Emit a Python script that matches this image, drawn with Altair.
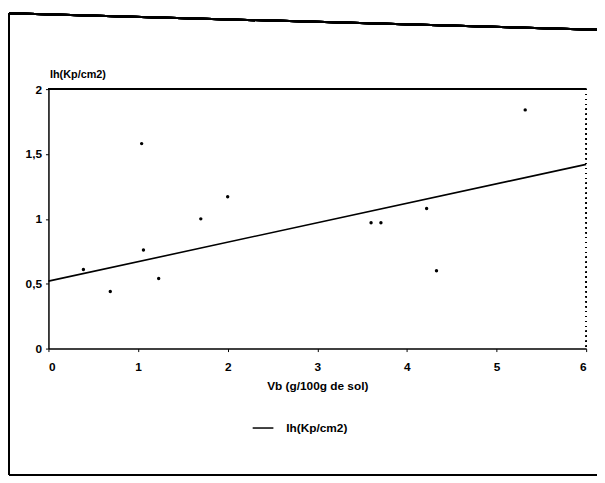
import altair as alt
import pandas as pd

vb = [0.39, 0.69, 1.04, 1.06, 1.23, 1.70, 2.00, 3.60, 3.71, 4.22, 4.33, 5.32]
ih = [0.61, 0.44, 1.58, 0.76, 0.54, 1.00, 1.17, 0.97, 0.97, 1.08, 0.60, 1.84]

# Fitted line end points
fit_x = [0, 6]
fit_y = [0.52, 1.42]
series_name = "Ih(Kp/cm2)"

x_ticks = [0, 1, 2, 3, 4, 5, 6]
y_ticks = [0, 0.5, 1, 1.5, 2]

FONT = "Liberation Sans"

pts = pd.DataFrame({"vb": vb, "ih": ih})
fit = pd.DataFrame({"vb": fit_x, "ih": fit_y, "s": [series_name] * len(fit_x)})

xscale = alt.Scale(domain=[0, 6], nice=False, zero=False)
yscale = alt.Scale(domain=[0, 2], nice=False, zero=False)

xaxis = alt.Axis(
    values=x_ticks, format="d", title="Vb (g/100g de sol)", grid=False,
    domainColor="black", domainWidth=1.5, tickColor="black", tickSize=3,
    labelPadding=10, labelFont=FONT, labelFontSize=12, labelFontWeight="bold",
    labelColor="black", titleFont=FONT, titleFontSize=12, titleFontWeight="bold",
    titleColor="black", titlePadding=8,
)
yaxis = alt.Axis(
    values=y_ticks, title="Ih(Kp/cm2)", grid=False,
    labelExpr="replace(toString(datum.value), '.', ',')",
    domainColor="black", domainWidth=1.5, tickColor="black", tickSize=3,
    labelPadding=4, labelFont=FONT, labelFontSize=12, labelFontWeight="bold",
    labelColor="black", titleFont=FONT, titleFontSize=11, titleFontWeight="bold",
    titleColor="black", titleAngle=0, titleAlign="left", titleBaseline="middle",
    titleX=1, titleY=-15,
)

points = alt.Chart(pts).mark_circle(size=12, color="black", opacity=1).encode(
    x=alt.X("vb:Q", scale=xscale, axis=xaxis),
    y=alt.Y("ih:Q", scale=yscale, axis=yaxis),
)

line = alt.Chart(fit).mark_line(strokeWidth=1.6).encode(
    x="vb:Q",
    y="ih:Q",
    color=alt.Color(
        "s:N",
        scale=alt.Scale(range=["black"]),
        legend=alt.Legend(
            title=None, orient="none", legendX=206, legendY=332,
            symbolType="stroke", symbolSize=441, symbolStrokeWidth=1.5,
            labelFont=FONT, labelFontSize=12, labelFontWeight="bold",
            labelColor="black", labelOffset=12, padding=0,
        ),
    ),
)

top_rule = alt.Chart(pts).mark_rule(color="black", strokeWidth=1.5).encode(
    y=alt.datum(2)
)
right_rule = alt.Chart(pts).mark_rule(color="black", strokeWidth=1.2, strokeDash=[1, 4]).encode(
    x=alt.datum(6)
)

# outer page frame (decoration)
frame_left = alt.Chart(pts).mark_rule(color="black", strokeWidth=2).encode(
    x=alt.value(-40), y=alt.value(-77), y2=alt.value(391)
)
frame_top = alt.Chart(pts).mark_rule(color="black", strokeWidth=2).encode(
    x=alt.value(-40), x2=alt.value(560), y=alt.value(-77), y2=alt.value(-60)
)
frame_bottom = alt.Chart(pts).mark_rule(color="black", strokeWidth=2).encode(
    x=alt.value(-40), x2=alt.value(560), y=alt.value(391), y2=alt.value(391)
)

chart = alt.layer(
    top_rule, right_rule, line, points, frame_left, frame_top, frame_bottom
).properties(
    width=545, height=263,
    autosize=alt.AutoSizeParams(type="none"),
    padding={"left": 41, "top": 79, "right": 11, "bottom": 133},
    background="white",
).configure_view(stroke=None)

chart.save("out.html", embed_options={"renderer": "svg", "actions": False})
